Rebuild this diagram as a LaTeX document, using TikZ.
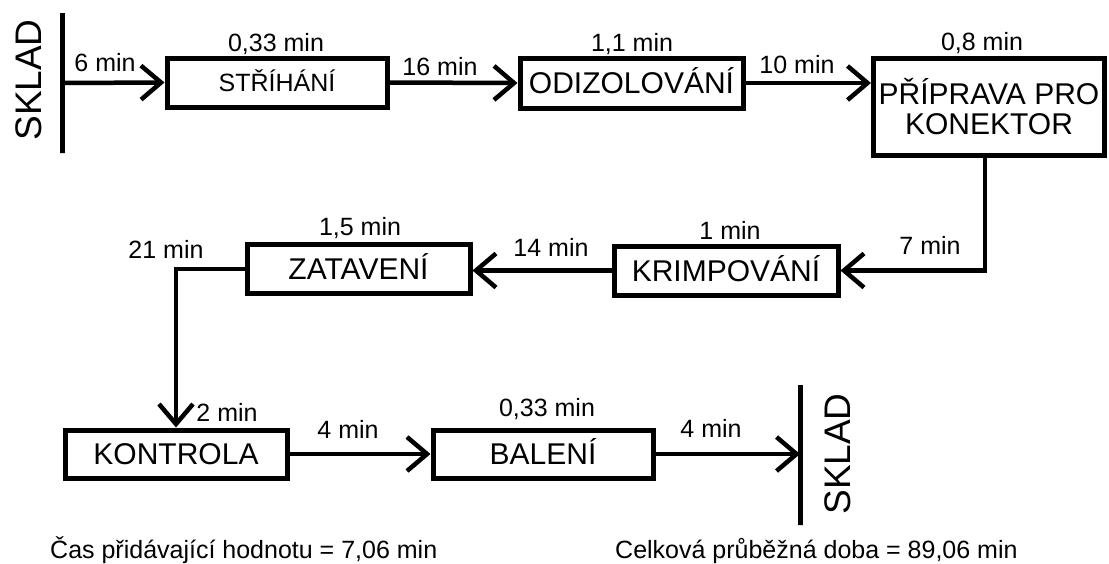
\documentclass[tikz,border=0pt]{standalone}
\usepackage{fontspec}
\setmainfont{Liberation Sans}
\usetikzlibrary{arrows.meta}
\begin{document}
\begin{tikzpicture}[x=1pt,y=-1pt,
  box/.style={draw,line width=5pt,rectangle,inner sep=0pt,
    font=\fontsize{30}{30}\selectfont,text height=21.5pt,text depth=0pt},
  bar/.style={draw,line width=5pt,rectangle,inner sep=0pt,minimum width=0pt},
  lbl/.style={font=\fontsize{25}{28}\selectfont,inner sep=0pt,text height=17.9pt,text depth=0pt},
  sklad/.style={font=\fontsize{37}{40}\selectfont,rotate=90,inner sep=0pt,text height=26.5pt,text depth=0pt},
  arr/.style={line width=4.5pt,-{Straight Barb[length=20pt,width=34pt]}},
  conn/.style={line width=4.5pt}]
\useasboundingbox (0,0) rectangle (1109,563);

% boxes
\node[box,minimum width=220pt,minimum height=49pt,font=\fontsize{25}{25}\selectfont,text height=17.9pt] (str) at (277,82.5) {STŘÍHÁNÍ};
\node[box,minimum width=223pt,minimum height=50pt] (odi) at (631.5,83) {ODIZOLOVÁNÍ};
\node[box,minimum width=231pt,minimum height=97pt,align=center,text height=,text depth=] (pri) at (989,106.5) {PŘÍPRAVA PRO\\KONEKTOR};
\node[box,minimum width=224pt,minimum height=49pt] (kri) at (726,270.5) {KRIMPOVÁNÍ};
\node[box,minimum width=223pt,minimum height=49pt] (zat) at (358.5,269) {ZATAVENÍ};
\node[box,minimum width=222pt,minimum height=48pt] (kon) at (176,454) {KONTROLA};
\node[box,minimum width=220pt,minimum height=48pt] (bal) at (543,454) {BALENÍ};

% warehouses
\node[bar,minimum height=140pt] (skl1) at (62,83) {};
\node[bar,minimum height=140pt] (skl2) at (800,455) {};
\node[sklad] (skl1t) at (28,80) {SKLAD};
\node[sklad] (skl2t) at (837,454) {SKLAD};

% connectors
\draw[arr] (skl1.center) -- (str.west);
\draw[arr] (str.east) -- (odi.west);
\draw[arr] (odi.east) -- (odi.east -| pri.west);
\draw[arr] ([xshift=-4pt]pri.south) |- (kri.east);
\draw[arr] (kri.west) -- (kri.west -| zat.east);
\draw[arr] (zat.west) -| (kon.north);
\draw[arr] (kon.east) -- (bal.west);
\draw[arr] (bal.east) -- (bal.east -| skl2.center);

% labels
\node[lbl] (l1) at (105,63) {6 min};
\node[lbl] (l2) at (276,43) {0,33 min};
\node[lbl] (l3) at (440,67) {16 min};
\node[lbl] (l4) at (632,43) {1,1 min};
\node[lbl] (l5) at (797,65) {10 min};
\node[lbl] (l6) at (982,42) {0,8 min};
\node[lbl] (l7) at (930,246) {7 min};
\node[lbl] (l8) at (730,231) {1 min};
\node[lbl] (l9) at (551,248) {14 min};
\node[lbl] (l10) at (360,227) {1,5 min};
\node[lbl] (l11) at (166,250) {21 min};
\node[lbl] (l12) at (227,413) {2 min};
\node[lbl] (l13) at (348,430) {4 min};
\node[lbl] (l14) at (547,408) {0,33 min};
\node[lbl] (l15) at (711,429) {4 min};

% totals
\node[font=\fontsize{25}{28}\selectfont,inner sep=0pt,anchor=base west] (va) at (50,558) {Čas přidávající hodnotu = 7,06 min};
\node[font=\fontsize{25}{28}\selectfont,inner sep=0pt,anchor=base west] (tot) at (615,558) {Celková průběžná doba = 89,06 min};
\end{tikzpicture}
\end{document}
